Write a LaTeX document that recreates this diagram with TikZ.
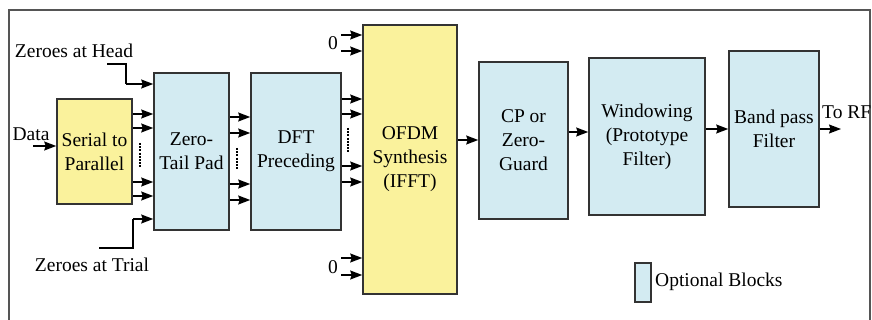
\documentclass[tikz,border=0pt]{standalone}
\usepackage{fontspec}
\setmainfont{Liberation Serif}
\usetikzlibrary{arrows.meta,calc}
\definecolor{byel}{HTML}{FAF29C}
\definecolor{bblue}{HTML}{D3EBF2}
\definecolor{edge}{HTML}{333333}
\definecolor{framec}{HTML}{555555}
\tikzset{
  blk/.style={draw=edge, line width=1.6pt, align=center, inner sep=0pt,
    font=\fontsize{19.5}{24}\selectfont},
  yblk/.style={blk, fill=byel},
  bblk/.style={blk, fill=bblue},
  arr/.style={line width=1.4pt, -{Stealth[length=12pt,width=9pt,inset=1.5pt]}},
  ln/.style={line width=1.4pt},
  lbl/.style={inner sep=0pt, font=\fontsize{19.5}{24}\selectfont},
  dots/.style={line width=1.3pt, dash pattern=on 2pt off 1.2pt}
}
\begin{document}
\begin{tikzpicture}[x=1pt,y=-1pt]
\useasboundingbox (0,0) rectangle (872,320);
% frame
\draw[framec, line width=1.5pt] (9,330) -- (9,10) -- (870,10) -- (870,330);
% blocks
\node[yblk, minimum width=75pt, minimum height=105pt] (sp) at (94.5,151.5) {Serial to\\Parallel};
\node[bblk, minimum width=75pt, minimum height=157pt] (ztp) at (191.5,151.5) {Zero-\\Tail Pad};
\node[bblk, minimum width=90pt, minimum height=157pt] (dft) at (296,151.5) {DFT\\Preceding};
\node[yblk, minimum width=94pt, minimum height=269pt] (ofdm) at (410,159.5) {OFDM\\Synthesis\\(IFFT)};
\node[bblk, minimum width=89pt, minimum height=157pt] (cp) at (523.5,140.5) {CP or\\Zero-\\Guard};
\node[bblk, minimum width=116pt, minimum height=157pt] (win) at (647,136.5) {Windowing\\(Prototype\\Filter)};
\node[bblk, minimum width=90pt, minimum height=156pt] (bpf) at (774,129) {Band pass\\Filter};
% labels
\node[lbl] (data) at (31,134) {Data};
\node[lbl] (zh) at (74,51) {Zeroes at Head};
\node[lbl] (zt) at (92,265) {Zeroes at Trial};
\node[lbl, anchor=west] (torf) at (822,112) {To RF};
\node[lbl] (z1) at (333,43) {0};
\node[lbl] (z2) at (333,267) {0};
% data in
\coordinate (din) at (33,146);
\draw[arr] (din) -- (sp.west |- din);
% S/P -> ZTP
\foreach \yy in {114,128,182,196} \draw[arr] (sp.east |- 0,\yy) -- (ztp.west |- 0,\yy);
\draw[dots] (140,143) -- (140,167);
% zeroes head/trial
\coordinate (zhs) at (107,64);
\coordinate (zts) at (99,248);
\draw[ln] (zhs) -- (126,64) -- (126,84);
\draw[arr] (126,84) -- (ztp.west |- 0,84);
\draw[ln] (zts) -- (133,248) -- (133,219);
\draw[arr] (133,219) -- (ztp.west |- 0,219);
% ZTP -> DFT
\foreach \yy in {117,133,184,200} \draw[arr] (ztp.east |- 0,\yy) -- (dft.west |- 0,\yy);
\draw[dots] (237,148) -- (237,170);
% DFT -> OFDM
\foreach \yy in {99,114,166,182} \draw[arr] (dft.east |- 0,\yy) -- (ofdm.west |- 0,\yy);
\draw[dots] (348,128) -- (348,152);
% zeros into OFDM
\foreach \yy in {35,51,258,275} \draw[arr] (341,\yy) -- (ofdm.west |- 0,\yy);
% chain
\draw[arr] (ofdm.east |- 0,140) -- (cp.west |- 0,140);
\draw[arr] (cp.east |- 0,132) -- (win.west |- 0,132);
\draw[arr] (win.east |- 0,129) -- (bpf.west |- 0,129);
\coordinate (rfend) at (841,129);
\draw[arr] (bpf.east |- rfend) -- (rfend);
% legend
\node[bblk, minimum width=16pt, minimum height=39pt] (leg) at (643,282.5) {};
\node[lbl, anchor=west] (legt) at (655,282) {Optional Blocks};
\end{tikzpicture}
\end{document}
